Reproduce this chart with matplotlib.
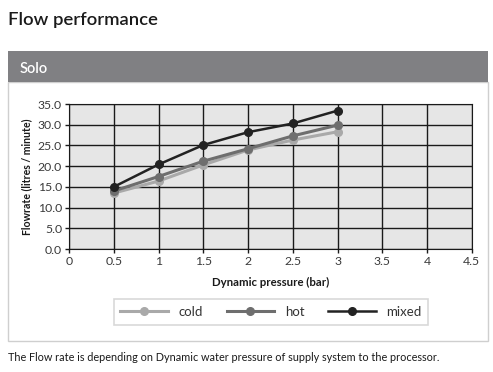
import matplotlib
matplotlib.use('Agg')
import matplotlib.pyplot as plt
from matplotlib.patches import Rectangle

# данные графика
pressure = [0.5, 1, 1.5, 2, 2.5, 3]
cold = [13.5, 16.4, 20.3, 23.9, 26.3, 28.3]
hot = [14.0, 17.5, 21.2, 24.2, 27.3, 29.9]
mixed = [15.0, 20.4, 25.1, 28.2, 30.3, 33.4]

x_ticks = [0, 0.5, 1, 1.5, 2, 2.5, 3, 3.5, 4, 4.5]
x_labels = ['0', '0.5', '1', '1.5', '2', '2.5', '3', '3.5', '4', '4.5']
y_ticks = [0, 5, 10, 15, 20, 25, 30, 35]

plt.rcParams['font.family'] = ['Lato', 'DejaVu Sans']

fig = plt.figure(figsize=(4.93, 3.72), dpi=100)

# Заголовок и серая плашка
fig.text(0.016, 0.945, 'Flow performance', fontsize=13.3, fontweight='semibold',
         color='#1a1a1a', va='center')
fig.patches.append(Rectangle((0.0162, 0.0833), 0.974, 0.6963, transform=fig.transFigure,
                             facecolor='white', edgecolor='#cfcfcf', linewidth=1, zorder=-10))
fig.patches.append(Rectangle((0.0162, 0.7796), 0.974, 0.0833, transform=fig.transFigure,
                             facecolor='#808083', edgecolor='none', zorder=-10))
fig.text(0.04, 0.815, 'Solo', fontsize=10.5, fontweight='semibold', color='white', va='center')

ax = fig.add_axes([0.140, 0.3306, 0.817, 0.3898])
ax.set_facecolor('#e6e6e6')

ax.plot(pressure, cold, color='#a9a9a9', linewidth=2.2, marker='o', markersize=5.5, label='cold', zorder=3)
ax.plot(pressure, hot, color='#6e6e6e', linewidth=2.2, marker='o', markersize=5.5, label='hot', zorder=4)
ax.plot(pressure, mixed, color='#222222', linewidth=1.8, marker='o', markersize=5.5, label='mixed', zorder=5)

ax.set_xlim(0, 4.5)
ax.set_ylim(0, 35)
ax.set_xticks(x_ticks)
ax.set_xticklabels(x_labels)
ax.set_yticks(y_ticks)
ax.set_yticklabels(['%.1f' % v for v in y_ticks])
ax.grid(True, color='#1a1a1a', linewidth=1)
ax.set_axisbelow(True)
for s in ax.spines.values():
    s.set_color('#1a1a1a')
ax.tick_params(labelsize=8.8, colors='#1a1a1a', labelcolor='#3a3a3a', length=3, width=1, pad=2)

ax.set_xlabel('Dynamic pressure (bar)', fontsize=8.2, fontweight='bold', color='#1a1a1a', labelpad=7)
ax.set_ylabel('Flowrate (litres / minute)', fontsize=7.6, fontweight='bold', color='#1a1a1a', labelpad=4)

# Легенда
leg = fig.legend(loc='center', bbox_to_anchor=(0.217, 0.121, 0.665, 0.081),
                 bbox_transform=fig.transFigure, mode='expand', ncol=3,
                 fontsize=9.5, handlelength=3.6, frameon=True, fancybox=False,
                 borderpad=0.5, columnspacing=1.5)
leg.get_frame().set_edgecolor('#cfcfcf')
leg.get_frame().set_linewidth(1.2)
for t in leg.get_texts():
    t.set_color('#333333')

fig.text(0.016, 0.04, 'The Flow rate is depending on Dynamic water pressure of supply system to the processor.',
         fontsize=7.8, color='#1a1a1a', va='center')

plt.savefig('out.png', dpi=100)
